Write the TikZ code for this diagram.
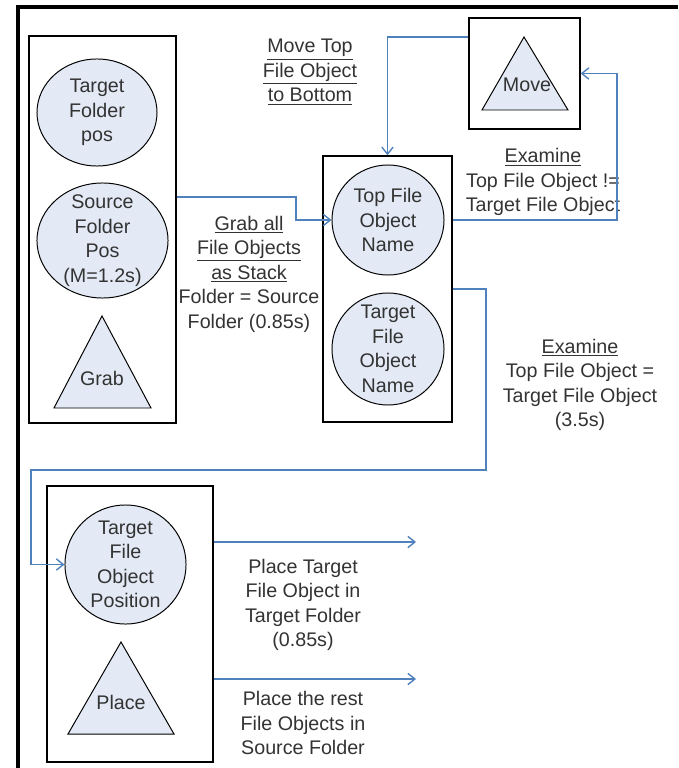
\documentclass[tikz,border=0pt]{standalone}
\usepackage{fontspec}
\setmainfont{Liberation Sans}
\usepackage{xcolor}
\usepackage{tikz}
\usetikzlibrary{positioning,arrows.meta,shapes.geometric}
\definecolor{flowBlue}{HTML}{4F81BD}
\definecolor{discFill}{HTML}{E3EAF5}
\definecolor{txtGray}{HTML}{333333}

\begin{document}
\begin{tikzpicture}[
  x=0.025cm,y=-0.025cm,
  font=\fontsize{14}{17.4}\selectfont,
  text=txtGray,
  grp/.style={draw=black,line width=1pt,inner sep=0pt},
  disc/.style={ellipse,draw=black,line width=0.7pt,fill=discFill,inner sep=0pt},
  tri/.style={draw=black,line width=0.7pt,fill=discFill,line join=miter},
  lbl/.style={align=center,inner sep=0pt},
  flow/.style={-{Straight Barb[length=5pt,width=8pt]},draw=flowBlue,line width=1pt},
]
\useasboundingbox (0,0) rectangle (678,768);
% page frame (top + left edge only)
\draw[line width=2.2pt] (18,768) -- (18,7) -- (678,7);

% LEFT: grab group
\node[grp,minimum width=3.675cm,minimum height=9.675cm] (grabGrp) at (102.5,229.5) {};
\node[disc,minimum width=3cm,minimum height=2.675cm,
      label={[lbl]center:{Target\\Folder\\pos}}] (tgtFolder) at (97,112.5) {};
\node[disc,minimum width=3.275cm,minimum height=2.875cm,
      label={[lbl]center:{Source\\Folder\\Pos\\(M=1.2s)}}] (srcFolder) at (102.5,240.5) {};
\draw[tri] (102,316) -- (151,408) -- (54,408) -- cycle;
\node[lbl] (grab) at (102,378) {Grab};

% MIDDLE: stack group
\node[grp,minimum width=3.225cm,minimum height=6.65cm] (stackGrp) at (387.5,289) {};
\node[disc,minimum width=2.8cm,minimum height=2.75cm,
      label={[lbl]center:{Top File\\Object\\Name}}] (topName) at (388,220) {};
\node[disc,minimum width=2.8cm,minimum height=2.8cm,
      label={[lbl]center:{Target\\File\\Object\\Name}}] (tgtName) at (388,349) {};

% TOP RIGHT: move group
\node[grp,minimum width=2.775cm,minimum height=2.775cm] (moveGrp) at (524.5,73.5) {};
\draw[tri] (524,37) -- (568,110) -- (482,110) -- cycle;
\node[lbl] (move) at (527,85) {Move};

% BOTTOM: place group
\node[grp,minimum width=4.15cm,minimum height=6.9cm] (placeGrp) at (130,624) {};
\node[disc,minimum width=3.025cm,minimum height=2.975cm,
      label={[lbl]center:{Target\\File\\Object\\Position}}] (tgtPos) at (125.5,564.5) {};
\draw[tri] (121,642) -- (174,734) -- (68,734) -- cycle;
\node[lbl] (place) at (121,702) {Place};

% labels
\node[lbl] (lblMove) at (310,72) {\underline{Move Top}\\\underline{File Object}\\\underline{to Bottom}};
\node[lbl] (lblGrab) at (249,274) {\underline{Grab all}\\\underline{File Objects}\\\underline{as Stack}\\Folder = Source\\Folder (0.85s)};
\node[lbl] (lblNeq) at (543,182) {\underline{Examine}\\Top File Object !=\\Target File Object};
\node[lbl] (lblEq) at (580,385) {\underline{Examine}\\Top File Object =\\Target File Object\\(3.5s)};
\node[lbl] (lblPlaceTgt) at (303,605) {Place Target\\File Object in\\Target Folder\\(0.85s)};
\node[lbl] (lblPlaceRest) at (303,723) {Place the rest\\File Objects in\\Source Folder};

% connectors
\draw[flow] (grabGrp.east |- 0,197) -- (296,197) |- (topName.west);
\draw[flow] (moveGrp.west |- 0,37) -| (stackGrp.north);
\draw[flow] (stackGrp.east |- topName) -- (617,220) |- (moveGrp.east);
\draw[flow] (stackGrp.east) -- (486,289) -- (486,470) -- (31,470) |- (tgtPos.west);
\coordinate (outTgt) at (416,542);
\coordinate (outRest) at (416,679);
\draw[flow] (placeGrp.east |- outTgt) -- (outTgt);
\draw[flow] (placeGrp.east |- outRest) -- (outRest);
\end{tikzpicture}
\end{document}
